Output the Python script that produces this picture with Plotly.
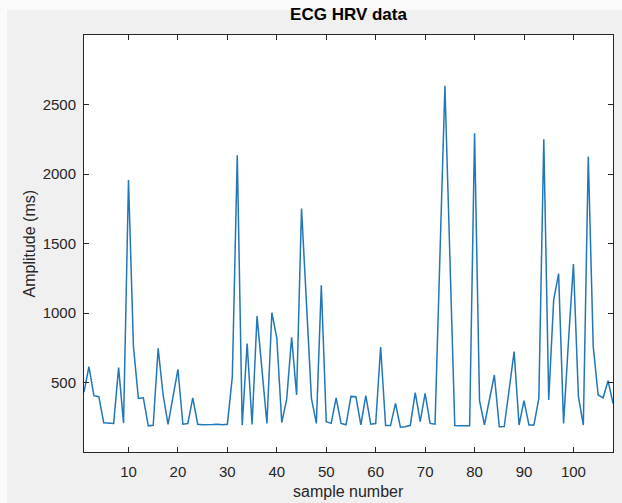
import plotly.graph_objects as go

sample_number = list(range(1, 109))
amplitude_ms = [
    430, 615, 405, 398, 210, 208, 205, 607, 208, 1956,
    760, 385, 390, 188, 192, 746, 410, 198, 395, 595,
    200, 205, 390, 200, 196, 195, 198, 200, 196, 200,
    540, 2135, 193, 780, 198, 978, 600, 205, 1002, 820,
    211, 380, 825, 410, 1752, 1060, 386, 206, 1200, 218,
    206, 390, 206, 196, 400, 398, 196, 405, 200, 205,
    755, 190, 190, 350, 178, 181, 192, 427, 218, 422,
    206, 200, 1410, 2635, 1410, 190, 188, 188, 188, 2293,
    370, 196, 375, 554, 182, 183, 450, 722, 194, 370,
    194, 194, 386, 2250, 374, 1094, 1283, 206, 800, 1353,
    400, 194, 2125, 758, 410, 390, 513, 350,
]
x_ticks = [10, 20, 30, 40, 50, 60, 70, 80, 90, 100]
y_ticks = [500, 1000, 1500, 2000, 2500]

W, H = 622, 503
L, R, T, B = 84, 9, 35, 51
pw, ph = W - L - R, H - T - B
FONT = "Liberation Sans, Arial, sans-serif"

fig = go.Figure()
fig.add_trace(go.Scatter(
    x=sample_number, y=amplitude_ms, mode="lines",
    line=dict(color="#2277b8", width=1.5),
    hoverinfo="x+y",
))

axis_common = dict(
    showline=True, linecolor="#262626", linewidth=1, mirror="allticks",
    ticks="inside", ticklen=5, tickcolor="#262626", tickwidth=1,
    showgrid=False, zeroline=False, automargin=False,
    tickfont=dict(family=FONT, size=15, color="#262626"),
)

fig.update_layout(
    width=W, height=H,
    margin=dict(l=L, r=R, t=T, b=B),
    paper_bgcolor="#f0f0f0", plot_bgcolor="white",
    showlegend=False,
    title=dict(text="<b>ECG HRV data</b>", x=(L + pw / 2) / W, xanchor="center",
               y=1 - 14 / H, yanchor="middle",
               font=dict(family=FONT, size=17, color="#000000")),
    xaxis=dict(range=[1, 108], tickvals=x_ticks, ticklabelstandoff=6, **axis_common),
    yaxis=dict(range=[0, 3000], tickvals=y_ticks, ticklabelstandoff=4, **axis_common),
)

# axis titles
fig.add_annotation(text="sample number", xref="paper", yref="paper",
                   x=0.5, y=(H - B - 491) / ph, xanchor="center", yanchor="middle",
                   showarrow=False, font=dict(family=FONT, size=16, color="#262626"))
fig.add_annotation(text="Amplitude (ms)", xref="paper", yref="paper", textangle=-90,
                   x=(29 - L) / pw, y=0.5, xanchor="center", yanchor="middle",
                   showarrow=False, font=dict(family=FONT, size=16, color="#262626"))

# light screenshot border strips (top and left)
top_y0 = (H - B - 10) / ph
top_y1 = H / ph
fig.add_shape(type="rect", xref="paper", yref="paper",
              x0=-L / pw - 0.01, x1=(W - L) / pw + 0.01, y0=top_y0, y1=top_y1 + 0.01,
              fillcolor="#fafafa", line=dict(width=0), layer="above")
fig.add_shape(type="rect", xref="paper", yref="paper",
              x0=-L / pw - 0.01, x1=(7 - L) / pw, y0=-B / ph - 0.01, y1=top_y1 + 0.01,
              fillcolor="#fafafa", line=dict(width=0), layer="above")

fig.write_html("out.html",
               config={"displayModeBar": False},
               post_script="document.body.style.margin='0';document.body.style.overflow='hidden';")
